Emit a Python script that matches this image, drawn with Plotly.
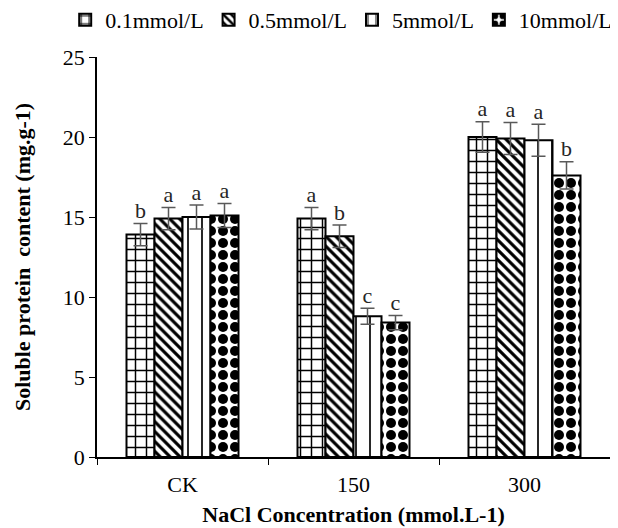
import plotly.graph_objects as go

categories = ["CK", "150", "300"]
series_names = ["0.1mmol/L", "0.5mmol/L", "5mmol/L", "10mmol/L"]
values = [
    [13.9, 14.9, 20.0],
    [14.9, 13.8, 19.9],
    [15.0, 8.8, 19.8],
    [15.1, 8.4, 17.6],
]
errors = [
    [0.7, 0.7, 0.95],
    [0.7, 0.7, 1.0],
    [0.75, 0.5, 1.0],
    [0.75, 0.45, 0.85],
]
letters = [
    ["b", "a", "a"],
    ["a", "b", "a"],
    ["a", "c", "a"],
    ["a", "c", "b"],
]
patterns = [
    dict(shape="+", fgcolor="black", bgcolor="white", size=11, solidity=0.25, fgopacity=1),
    dict(shape="\\", fgcolor="black", bgcolor="white", size=7, solidity=0.45, fgopacity=1),
    dict(shape="|", fgcolor="black", bgcolor="white", size=14, solidity=0.12, fgopacity=1),
    dict(shape=".", fgcolor="black", bgcolor="white", size=12, solidity=0.55, fgopacity=1),
]

FONT = "Liberation Serif, Times New Roman, serif"
fig = go.Figure()
for i, name in enumerate(series_names):
    fig.add_trace(go.Bar(
        x=categories, y=values[i], name=name, offsetgroup=str(i),
        marker=dict(color="white", pattern=patterns[i], line=dict(color="black", width=2)),
        error_y=dict(type="data", array=errors[i], color="#595959", thickness=1.5, width=7),
    ))
for i, name in enumerate(series_names):
    fig.add_trace(go.Scatter(
        x=categories, y=[v + e for v, e in zip(values[i], errors[i])],
        mode="text", text=letters[i], textposition="top center",
        textfont=dict(family=FONT, size=22, color="#262626"),
        offsetgroup=str(i), showlegend=False, hoverinfo="skip",
    ))

fig.update_layout(
    width=610, height=520,
    barmode="group", bargap=0.345, bargroupgap=0, scattermode="group",
    plot_bgcolor="white", paper_bgcolor="white",
    margin=dict(l=89, r=8, t=49, b=71, autoexpand=False),
    font=dict(family=FONT, size=22, color="black"),
    legend=dict(orientation="h", x=-0.062, xanchor="left",
                y=1.145, yanchor="top", font=dict(size=22),
                itemwidth=30, traceorder="normal", tracegroupgap=0),
    xaxis=dict(showline=True, linecolor="black", linewidth=1.5, ticks="outside",
               tickson="boundaries", ticklen=6, tickcolor="black", automargin=False,
               ticklabelstandoff=7,
               title=dict(text="<b>NaCl Concentration (mmol.L-1)</b>", font=dict(size=22), standoff=10)),
    yaxis=dict(range=[0, 25], dtick=5, showline=True, linecolor="black", linewidth=1.5,
               ticks="outside", ticklen=6, tickcolor="black", showgrid=False, zeroline=False,
               automargin=False,
               title=dict(text="<b>Soluble protein  content (mg.g-1)</b>", font=dict(size=22), standoff=26)),
)
fig.write_html("out.html")
